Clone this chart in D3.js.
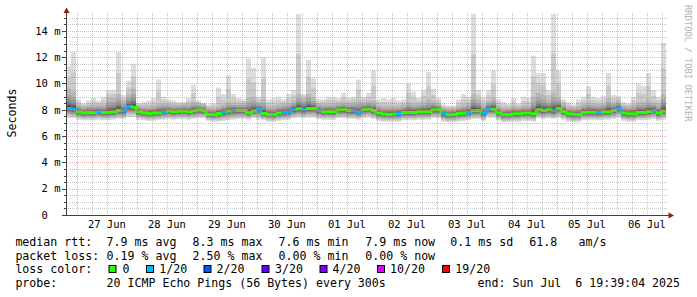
<!DOCTYPE html>
<html><head><meta charset="utf-8">
<script src="https://cdn.jsdelivr.net/npm/d3@7"></script>
<style>
html,body{margin:0;padding:0;background:#fff;}
svg{display:block;}
text{font-family:"DejaVu Sans Mono",monospace;white-space:pre;}
</style></head><body>
<svg id="c" width="697" height="297"></svg>
<script>
// ---- data ----
const startTime = Date.UTC(2025, 5, 26, 19, 39, 4);
const endTime = Date.UTC(2025, 6, 6, 19, 39, 4);
const stepHours = 2;
const dayLabels = ["27 Jun","28 Jun","29 Jun","30 Jun","01 Jul","02 Jul","03 Jul","04 Jul","05 Jul","06 Jul"];
const dayNoons = [
  Date.UTC(2025,5,27,12), Date.UTC(2025,5,28,12), Date.UTC(2025,5,29,12), Date.UTC(2025,5,30,12),
  Date.UTC(2025,6,1,12), Date.UTC(2025,6,2,12), Date.UTC(2025,6,3,12), Date.UTC(2025,6,4,12),
  Date.UTC(2025,6,5,12), Date.UTC(2025,6,6,12)];
const yTicks = [0, 2, 4, 6, 8, 10, 12, 14];
const yTickLabels = ["0  ", "2 m", "4 m", "6 m", "8 m", "10 m", "12 m", "14 m"];

// median rtt per 2h bin (ms)
const rttMedian = [
  8.10,8.05,7.85,7.78,7.80,7.78,7.85,7.80,7.82,7.85,
  7.95,7.90,8.25,8.20,7.85,7.78,7.72,7.75,7.78,7.85,
  7.90,7.85,7.88,7.90,7.85,7.92,7.98,7.95,7.65,7.62,
  7.72,7.82,7.90,7.95,7.95,7.95,7.78,7.90,8.05,7.72,
  7.65,7.62,7.75,7.80,7.85,8.00,8.08,8.02,8.10,8.10,
  7.95,7.85,7.87,7.85,8.00,8.00,7.95,7.92,7.82,8.00,
  8.05,7.95,7.75,7.68,7.65,7.68,7.70,7.80,7.82,7.80,
  7.85,7.87,7.85,8.00,8.00,7.70,7.62,7.65,7.72,7.75,
  7.80,7.92,7.95,7.75,8.05,8.05,7.78,7.62,7.65,7.70,
  7.70,7.75,7.75,7.70,8.00,7.95,8.00,7.92,8.10,7.87,
  7.70,7.65,7.65,7.80,7.82,7.82,7.80,7.85,7.85,7.95,
  8.08,7.75,7.70,7.70,7.80,7.80,7.87,7.95,7.75,7.90];
// fastest ping per bin (ms)
const rttMin = [
  7.40,7.35,7.25,7.20,7.20,7.20,7.25,7.20,7.20,7.25,
  7.30,7.30,7.45,7.45,7.25,7.20,7.15,7.15,7.20,7.25,
  7.30,7.25,7.30,7.30,7.25,7.30,7.35,7.35,7.15,7.10,
  7.10,7.15,7.20,7.25,7.30,7.30,7.25,7.35,7.25,7.20,
  7.10,7.10,7.15,7.20,7.25,7.35,7.40,7.35,7.40,7.40,
  7.30,7.25,7.25,7.25,7.35,7.35,7.30,7.30,7.25,7.35,
  7.40,7.30,7.15,7.10,7.10,7.10,7.10,7.20,7.20,7.20,
  7.25,7.25,7.25,7.35,7.35,7.10,7.05,7.05,7.10,7.15,
  7.20,7.30,7.30,7.15,7.40,7.40,7.20,7.05,7.05,7.10,
  7.10,7.15,7.15,7.10,7.35,7.30,7.35,7.30,7.40,7.25,
  7.10,7.05,7.05,7.20,7.20,7.20,7.20,7.25,7.25,7.30,
  7.40,7.15,7.10,7.10,7.20,7.20,7.25,7.30,7.15,7.25];
// upper-bulk ping per bin (ms)
const rttP90 = [
  9.60,9.40,8.40,8.30,8.35,8.40,8.40,8.40,8.90,8.90,
  9.20,8.70,9.20,9.60,8.35,8.30,8.30,8.35,8.50,8.50,
  8.45,8.40,8.40,8.45,8.45,8.60,8.50,8.45,8.20,8.15,
  8.30,8.40,8.60,8.55,8.50,8.50,8.90,9.00,8.60,8.80,
  8.30,8.30,8.40,8.45,8.50,8.70,9.20,8.90,9.20,8.90,
  8.50,8.45,8.50,8.50,8.55,8.60,8.55,8.60,8.70,8.60,
  8.70,8.70,8.40,8.30,8.30,8.30,8.30,8.40,8.60,8.50,
  8.50,8.60,8.80,8.70,8.50,8.20,8.15,8.15,8.30,8.40,
  8.50,9.20,8.80,8.40,8.70,8.90,8.35,8.20,8.20,8.30,
  8.25,8.35,8.35,9.00,9.30,9.10,8.80,9.30,9.00,8.50,
  8.25,8.20,8.30,8.45,8.60,8.50,8.45,8.50,8.90,8.60,
  8.70,8.35,8.30,8.40,8.60,8.60,8.80,8.60,8.50,9.20];
// slowest ping per bin (ms)
const rttMax = [
  11.3,12.4,8.80,8.50,8.70,8.90,8.70,9.00,9.50,9.50,
  12.4,9.10,10.2,11.5,8.50,8.60,8.70,8.90,10.3,9.00,
  8.80,8.70,8.60,8.60,8.90,9.90,8.70,8.50,8.40,8.50,
  9.70,9.20,10.6,9.20,8.90,8.80,11.9,11.2,9.00,12.0,
  8.80,8.90,9.00,8.80,9.20,9.50,15.3,9.20,11.8,10.4,
  8.80,8.80,9.00,9.00,8.90,9.30,8.90,9.00,10.3,9.00,
  9.30,11.0,8.80,8.90,8.80,8.90,8.70,8.80,10.0,9.40,
  8.90,9.50,10.9,9.60,8.90,8.40,8.30,8.30,8.80,9.20,
  9.00,15.3,9.50,9.00,9.50,11.0,8.80,8.60,8.50,8.90,
  8.50,9.00,8.90,12.1,10.8,10.8,9.50,15.3,11.0,8.80,
  8.60,8.40,8.80,9.00,9.80,9.00,8.90,9.05,10.8,9.15,
  9.05,8.60,8.50,9.00,10.0,9.80,10.8,9.50,9.00,13.1];
// lost pings (of 20) per bin
const lossCount = [
  1,1,0,0,0,0,1,0,0,0, 0,1,1,0,0,0,0,0,0,1,
  0,0,0,0,0,0,0,0,0,0, 0,1,0,1,0,0,0,0,1,0,
  0,0,0,1,1,1,0,1,0,0, 1,0,0,0,0,0,0,1,1,0,
  0,0,0,0,0,0,1,0,0,0, 0,0,0,0,0,1,0,0,0,0,
  1,0,0,1,1,0,0,0,0,0, 0,0,0,0,0,0,0,1,0,0,
  0,0,0,0,0,0,1,0,0,0, 1,0,0,0,0,0,0,1,0,0];
const lossLevels = [0, 1, 2, 3, 4, 10, 19];
const lossLabels = ["0", "1/20", "2/20", "3/20", "4/20", "10/20", "19/20"];
const lossColors = ["#26ff00", "#00b8ff", "#0059ff", "#5e00ff", "#7e00ff", "#dd00ff", "#ff0000"];

const statRows = [
  ["median rtt:", ["7.9 ms avg", "8.3 ms max", "7.6 ms min", "7.9 ms now", "0.1 ms sd", "61.8", "am/s"]],
  ["packet loss:", ["0.19 % avg", "2.50 % max", "0.00 % min", "0.00 % now"]]
];
const probeText = "20 ICMP Echo Pings (56 Bytes) every 300s";
const endText = "end: Sun Jul  6 19:39:04 2025";

// ---- drawing ----
const svg = d3.select("#c");
const X0 = 66, X1 = 666, YB = 215, YT = 13;
const x = d3.scaleUtc().domain([new Date(startTime), new Date(endTime)]).range([X0, X1]);
const y = d3.scaleLinear().domain([0, 15.36]).range([YB, YT]);

const n = rttMedian.length;
const times = d3.range(n).map(i => new Date(startTime + i * stepHours * 3600e3));
const rows = times.map((t, i) => ({t, med: rttMedian[i], lo: rttMin[i], p90: rttP90[i], hi: rttMax[i], loss: lossCount[i]}));
const rowsExt = rows.concat([Object.assign({}, rows[n - 1], {t: new Date(endTime)})]);

// smoke bands (outer light -> inner dark), 10 nested layers like smokeping
const nb = 10;
const upF = [0.7, 0.5, 0.35, 0.25, 0.17, 0.1, 0.05];
const loF = [0, 0.15, 0.3, 0.45, 0.56, 0.66, 0.75, 0.83, 0.9, 0.95];
const gSmoke = svg.append("g");
for (let j = 1; j <= nb; j++) {
  const c = 221 - 19 * (j - 1);
  const top = d => {
    if (j === 1) return d.hi;
    if (j === 2) return d.p90 + (d.hi - d.p90) * 0.5;
    if (j === 3) return d.p90;
    return d.med + (d.p90 - d.med) * upF[j - 4];
  };
  const bot = d => d.lo + (d.med - d.lo) * loF[j - 1];
  const area = d3.area().x(d => x(d.t)).y0(d => y(bot(d))).y1(d => y(top(d))).curve(d3.curveStepAfter);
  gSmoke.append("path").attr("d", area(rowsExt)).attr("fill", d3.rgb(c, c, c).formatHex()).attr("stroke", "none");
}

// median line colored by loss
const lossColor = c => lossColors[lossLevels.filter(l => l <= c).length - 1];
const gMed = svg.append("g");
rows.forEach((d, i) => {
  const xa = x(d.t), xb = x(rowsExt[i + 1].t);
  let p = `M${xa},${y(d.med)}H${xb}`;
  if (i < n - 1) p += `V${y(rows[i + 1].med)}`;
  gMed.append("path").attr("d", p).attr("fill", "none")
    .attr("stroke", lossColor(d.loss)).attr("stroke-width", 3);
});

// grid (on top, like rrdtool)
const gGrid = svg.append("g").attr("stroke-dasharray", "1,1").attr("shape-rendering", "crispEdges");
const majorCol = "rgba(225,80,80,0.45)", minorCol = "rgba(140,140,140,0.5)";
const hours = d3.utcHour.every(6).range(new Date(startTime), new Date(endTime));
hours.forEach(t => {
  const xp = Math.round(x(t)) + 0.5;
  const major = t.getUTCHours() === 0;
  gGrid.append("line").attr("x1", xp).attr("x2", xp).attr("y1", YT).attr("y2", YB)
    .attr("stroke", major ? majorCol : minorCol);
});
d3.range(1, 31).map(k => k * 0.5).forEach(v => {
  const yp = Math.round(y(v)) + 0.5;
  const major = v % 2 === 0;
  gGrid.append("line").attr("x1", X0).attr("x2", 668).attr("y1", yp).attr("y2", yp)
    .attr("stroke", major ? majorCol : minorCol);
});

// axes
const gAx = svg.append("g").attr("shape-rendering", "crispEdges").attr("stroke", "#404040");
gAx.append("line").attr("x1", X0 + 0.5).attr("x2", X0 + 0.5).attr("y1", YB + 1).attr("y2", 11);
gAx.append("line").attr("x1", 62).attr("x2", 669).attr("y1", YB + 0.5).attr("y2", YB + 0.5);
d3.range(0, 31).map(k => k * 0.5).forEach(v => {
  const yp = Math.round(y(v)) + 0.5;
  const major = v % 2 === 0;
  gAx.append("line").attr("x1", major ? 62 : 64).attr("x2", X0).attr("y1", yp).attr("y2", yp);
});
svg.append("path").attr("d", "M66.5,7.5L63.5,13L69.5,13Z").attr("fill", "#8e1b1b");
svg.append("path").attr("d", "M674,215.5L668.5,212.5L668.5,218.5Z").attr("fill", "#8e1b1b");

// y labels
yTicks.forEach((v, i) => {
  svg.append("text").attr("x", 60.5).attr("y", y(v) + 3.8).attr("text-anchor", "end")
    .attr("font-size", "10.5px").attr("fill", "#000").text(yTickLabels[i]);
});
// x labels
dayLabels.forEach((lab, i) => {
  svg.append("text").attr("x", x(new Date(dayNoons[i]))).attr("y", 228.3).attr("text-anchor", "middle")
    .attr("font-size", "10.5px").attr("fill", "#000").text(lab);
});
// axis title
svg.append("text").attr("transform", "translate(15.5,113) rotate(-90)").attr("text-anchor", "middle")
  .attr("font-size", "11.6px").attr("fill", "#000").text("Seconds");
// credit
svg.append("text").attr("transform", "translate(685,5) rotate(90)").attr("text-anchor", "start")
  .attr("font-size", "8.8px").attr("fill", "#b4b4b4").text("RRDTOOL / TOBI OETIKER");

// legend
const LF = "11.6px";
const colX = [106.6, 192.6, 278.6, 365.3, 450.3, 529.3, 578.6];
const lineY = [245.8, 259.5, 273.2, 287];
statRows.forEach((r, ri) => {
  svg.append("text").attr("x", 15.4).attr("y", lineY[ri]).attr("font-size", LF).text(r[0]);
  r[1].forEach((s, k) => svg.append("text").attr("x", colX[k]).attr("y", lineY[ri]).attr("font-size", LF).text(s));
});
svg.append("text").attr("x", 15.4).attr("y", lineY[2]).attr("font-size", LF).text("loss color:");
const boxX = [108.5, 146, 203.5, 261.5, 319.5, 377, 442];
const labX = [122.6, 159.3, 216.6, 275, 332.6, 390, 455.3];
lossLabels.forEach((lab, k) => {
  svg.append("rect").attr("x", boxX[k] + 0.5).attr("y", 265.5).attr("width", 7).attr("height", 7)
    .attr("fill", lossColors[k]).attr("stroke", "#000").attr("stroke-width", 1);
  svg.append("text").attr("x", labX[k]).attr("y", lineY[2]).attr("font-size", LF).text(lab);
});
svg.append("text").attr("x", 15.4).attr("y", lineY[3]).attr("font-size", LF).text("probe:");
svg.append("text").attr("x", 106.6).attr("y", lineY[3]).attr("font-size", LF).text(probeText);
svg.append("text").attr("x", 477.6).attr("y", lineY[3]).attr("font-size", LF).text(endText);
</script>
</body></html>
